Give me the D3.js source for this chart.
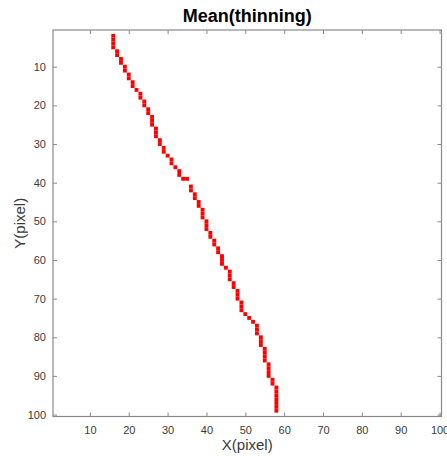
<!DOCTYPE html>
<html>
<head>
<meta charset="utf-8">
<script src="https://cdn.jsdelivr.net/npm/d3@7"></script>
<style>
  html, body { margin: 0; padding: 0; background: #fff; }
  svg { display: block; }
</style>
</head>
<body>
<div id="chart"></div>
<script>
// Skeleton pixels of the mean thinning result: image row and column of each red pixel
const pixelRow = [
  2, 3, 4, 5, 6, 7, 8, 9, 10, 11, 12, 13, 14, 15, 16, 17, 18, 19, 20, 21,
  22, 23, 24, 25, 26, 27, 28, 29, 30, 31, 32, 33, 34, 35, 36, 37, 38, 39, 39,
  41, 42, 43, 44, 45, 46, 47, 48, 49, 50, 51, 52, 53, 54, 55, 56, 57, 58, 59,
  60, 61, 62, 63, 64, 65, 66, 67, 68, 69, 70, 71, 72, 73, 74, 75, 76, 77, 78,
  79, 80, 81, 82, 83, 84, 85, 86, 87, 88, 89, 90, 91, 92, 93, 94, 95, 96, 97,
  98, 99
];
const pixelCol = [
  16, 16, 16, 16, 17, 17, 18, 18, 19, 19, 20, 20, 21, 21, 22, 23, 23, 24, 24, 25,
  25, 26, 26, 26, 27, 27, 27, 28, 28, 29, 29, 30, 31, 31, 32, 33, 33, 34, 35,
  36, 36, 37, 37, 38, 38, 39, 39, 39, 40, 40, 40, 41, 41, 42, 42, 43, 43, 44,
  44, 44, 45, 46, 46, 46, 47, 47, 48, 48, 48, 49, 49, 49, 50, 51, 52, 53, 53,
  53, 54, 54, 54, 55, 55, 55, 55, 56, 56, 56, 56, 57, 57, 58, 58, 58, 58, 58,
  58, 58
];

// Axis ticks and labels
const xTicks = [10, 20, 30, 40, 50, 60, 70, 80, 90, 100];
const yTicks = [10, 20, 30, 40, 50, 60, 70, 80, 90, 100];
const titleText = "Mean(thinning)";
const xLabelText = "X(pixel)";
const yLabelText = "Y(pixel)";
const imageSize = 100;

const width = 447, height = 456;
const margin = { top: 30, right: 5.5, bottom: 39.5, left: 53 };
const plotW = width - margin.left - margin.right;
const plotH = height - margin.top - margin.bottom;

const svg = d3.select("#chart").append("svg")
  .attr("width", width)
  .attr("height", height);

const g = svg.append("g")
  .attr("transform", `translate(${margin.left},${margin.top})`);

// Image-style axes: pixel centres at integers, extent half a pixel beyond
const x = d3.scaleLinear().domain([0.5, imageSize + 0.5]).range([0, plotW]);
const y = d3.scaleLinear().domain([0.5, imageSize + 0.5]).range([0, plotH]);

const pixels = pixelRow.map((r, i) => ({ row: r, col: pixelCol[i] }));

g.append("g").selectAll("rect")
  .data(pixels)
  .join("rect")
  .attr("x", d => x(d.col - 0.5))
  .attr("y", d => y(d.row - 0.5))
  .attr("width", d => x(d.col + 0.5) - x(d.col - 0.5))
  .attr("height", d => y(d.row + 0.5) - y(d.row - 0.5))
  .attr("fill", "#ff0000");

const axisColor = "#8a8a8a";
const textColor = "#3a3a3a";
const tickLen = 4;

function styleAxis(sel, showLabels) {
  sel.select(".domain").remove();
  sel.selectAll(".tick line").attr("stroke", axisColor).attr("stroke-width", 1);
  sel.selectAll(".tick text")
    .attr("fill", textColor)
    .style("font-family", "'Liberation Sans', Arial, sans-serif")
    .style("font-size", "11px")
    .style("display", showLabels ? null : "none");
}

// Bottom axis
g.append("g")
  .attr("transform", `translate(0,${plotH})`)
  .call(d3.axisBottom(x).tickValues(xTicks).tickSizeInner(-tickLen).tickSizeOuter(0).tickPadding(10))
  .call(s => styleAxis(s, true));

// Top axis (ticks only)
g.append("g")
  .call(d3.axisTop(x).tickValues(xTicks).tickSizeInner(-tickLen).tickSizeOuter(0))
  .call(s => styleAxis(s, false));

// Left axis
g.append("g")
  .call(d3.axisLeft(y).tickValues(yTicks).tickSizeInner(-tickLen).tickSizeOuter(0).tickPadding(7))
  .call(s => styleAxis(s, true));

// Right axis (ticks only)
g.append("g")
  .attr("transform", `translate(${plotW},0)`)
  .call(d3.axisRight(y).tickValues(yTicks).tickSizeInner(-tickLen).tickSizeOuter(0))
  .call(s => styleAxis(s, false));

// Box outline
g.append("rect")
  .attr("x", 0).attr("y", 0)
  .attr("width", plotW).attr("height", plotH)
  .attr("fill", "none")
  .attr("stroke", axisColor)
  .attr("stroke-width", 1.2);

// Title
svg.append("text")
  .attr("x", margin.left + plotW / 2)
  .attr("y", 22)
  .attr("text-anchor", "middle")
  .attr("fill", "#000")
  .style("font-family", "'Liberation Sans', Arial, sans-serif")
  .style("font-weight", "bold")
  .style("font-size", "18px")
  .text(titleText);

// X label
svg.append("text")
  .attr("x", margin.left + plotW / 2)
  .attr("y", 450)
  .attr("text-anchor", "middle")
  .attr("fill", textColor)
  .style("font-family", "'Liberation Sans', Arial, sans-serif")
  .style("font-size", "15px")
  .text(xLabelText);

// Y label
svg.append("text")
  .attr("transform", `translate(25,${margin.top + plotH / 2}) rotate(-90)`)
  .attr("text-anchor", "middle")
  .attr("fill", textColor)
  .style("font-family", "'Liberation Sans', Arial, sans-serif")
  .style("font-size", "15px")
  .text(yLabelText);
</script>
</body>
</html>
